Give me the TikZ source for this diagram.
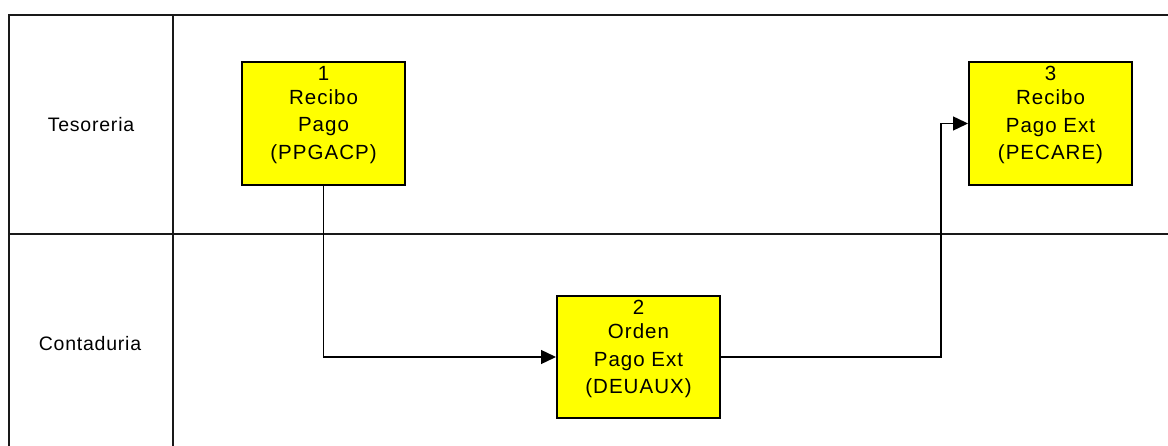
\documentclass[tikz,border=0pt]{standalone}
\usepackage{fontspec}
\setmainfont{Liberation Sans}
\usetikzlibrary{arrows.meta}
\definecolor{boxyellow}{RGB}{255,255,0}
\begin{document}
\begin{tikzpicture}[x=1pt,y=-1pt,
  frame/.style={line width=1.6pt,draw=black!90},
  stepbox/.style={draw=black,line width=2pt,fill=boxyellow,minimum width=163pt,minimum height=122pt,inner sep=0pt},
  boxtext/.style={anchor=north,inner sep=0pt,align=center,font=\fontsize{20.5}{27.5}\selectfont\addfontfeature{LetterSpace=5}},
  lanetext/.style={inner sep=0pt,font=\fontsize{19.5}{26.5}\selectfont\addfontfeature{LetterSpace=4}},
  flow/.style={line width=1.4pt,-{Triangle[length=15pt,width=14pt]}}]
\useasboundingbox (0,0) rectangle (1168,446);
% swimlane frame
\coordinate (tl) at (9,15);
\coordinate (tr) at (1168,15);
\coordinate (bl) at (9,446);
\coordinate (ct) at (173,15);
\coordinate (cb) at (173,446);
\coordinate (ml) at (9,234);
\coordinate (mr) at (1168,234);
\draw[frame] (bl) -- (tl) -- (tr);
\draw[frame] (ct) -- (cb);
\draw[frame] (ml) -- (mr);
% lane labels
\node[lanetext] (l1) at (91,125) {Tesoreria};
\node[lanetext] (l2) at (90,344) {Contaduria};
% boxes
\node[stepbox,minimum height=123pt] (b1) at (323.5,123.5) {};
\node[stepbox] (b2) at (638.5,357) {};
\node[stepbox,minimum height=123pt] (b3) at (1050.5,123.5) {};
\node[boxtext,yshift=-5pt] (t1) at (b1.north) {1\\[-3.5pt]Recibo\\Pago\\(PPGACP)};
\node[boxtext,yshift=-5pt] (t2) at (b2.north) {2\\[-3.5pt]Orden\\Pago Ext\\(DEUAUX)};
\node[boxtext,yshift=-5pt] (t3) at (b3.north) {3\\[-3.5pt]Recibo\\Pago Ext\\(PECARE)};
% connectors
\coordinate (k) at (941,0);
\draw[flow] (b1.south) |- (b2.west);
\draw[flow] (b2.east) -- (b2.east -| k) |- (b3.west);
\end{tikzpicture}
\end{document}
